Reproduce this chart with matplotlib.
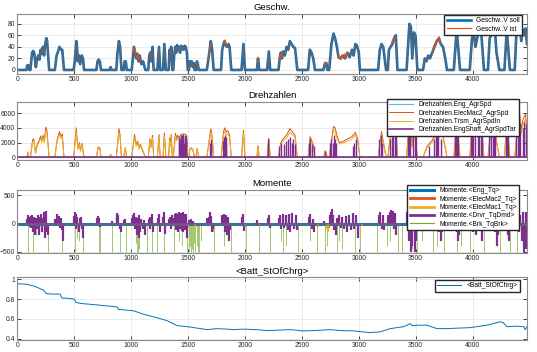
import matplotlib
matplotlib.use("Agg")
import matplotlib.pyplot as plt
import numpy as np

plt.rcParams['font.family'] = ['Liberation Sans', 'DejaVu Sans']

# ---------------- data ----------------
T_END = 4478

# Geschw. (V soll) vertices
speed_t = [0, 80, 88, 97, 105,
           115, 130, 140, 150, 163, 175, 185, 195, 205, 215, 225, 235, 245, 255, 262, 280,
           330, 345, 355, 370, 385, 395, 410,
           495, 505, 518, 524, 532, 542, 552, 567, 577, 587,
           695, 705, 715, 725, 735,
           812, 820, 828,
           870, 880, 893, 903, 915,
           935, 943, 953, 962,
           1005, 1015, 1025, 1035, 1045, 1055, 1065, 1075, 1090, 1105, 1125,
           1150, 1160, 1168, 1175, 1188, 1198,
           1230, 1245, 1255,
           1280, 1292, 1305,
           1330, 1338, 1345, 1352, 1362,
           1370, 1378, 1388, 1396, 1404, 1412, 1420, 1430, 1440, 1450, 1460, 1470, 1480, 1490, 1498,
           1508, 1515, 1523, 1532, 1542, 1550, 1558,
           1570, 1578, 1586, 1594,
           1665, 1680, 1700, 1712, 1725,
           1790, 1800, 1812, 1822, 1832, 1845, 1855, 1865, 1880,
           1970, 1987, 2000,
           2105, 2115, 2125,
           2195, 2210, 2222,
           2295, 2305, 2315, 2325, 2335, 2350, 2365, 2380, 2395, 2410, 2425, 2440, 2460,
           2555, 2570, 2585, 2600, 2615,
           2690, 2700, 2715, 2725,
           2740, 2760, 2778, 2792, 2808, 2822, 2840, 2860, 2880, 2900, 2920, 2940, 2955, 2970, 2985, 3000, 3010,
           3170, 3185, 3200, 3215, 3240,
           3255, 3265, 3280, 3295, 3310, 3325, 3340,
           3420, 3445, 3458, 3470, 3485, 3498, 3515,
           3565, 3580, 3595, 3610, 3625, 3645, 3665, 3685, 3705, 3720, 3740, 3760, 3775,
           3835, 3860, 3890,
           3975, 3995, 4010, 4025, 4040, 4055, 4072, 4100,
           4135, 4150, 4165, 4180, 4195, 4210, 4235,
           4280, 4300, 4328,
           4370, 4385, 4400, 4415, 4428, 4440, 4452, 4465, 4478]
speed_v = [0, 0, 8, 8, 0,
           0, 30, 33, 28, 5, 20, 25, 18, 35, 28, 40, 25, 45, 55, 50, 0,
           0, 25, 30, 40, 35, 35, 0,
           0, 15, 50, 40, 15, 25, 10, 25, 20, 0,
           0, 15, 18, 15, 0,
           0, 5, 0,
           0, 30, 50, 40, 0,
           0, 15, 15, 0,
           0, 20, 40, 30, 20, 28, 15, 25, 10, 15, 0,
           0, 25, 30, 15, 40, 0,
           0, 40, 0,
           0, 45, 0,
           0, 35, 20, 40, 0,
           0, 25, 40, 30, 43, 35, 40, 30, 42, 40, 35, 42, 40, 30, 0,
           0, 15, 8, 15, 5, 12, 0,
           0, 15, 10, 0,
           0, 20, 50, 35, 0,
           0, 35, 45, 50, 42, 40, 45, 40, 0,
           0, 45, 0,
           0, 20, 0,
           0, 32, 0,
           0, 20, 30, 20, 32, 25, 40, 35, 50, 45, 40, 38, 0,
           0, 35, 30, 20, 0,
           0, 10, 12, 0,
           0, 45, 63, 55, 40, 22, 20, 25, 20, 30, 22, 35, 25, 45, 42, 30, 0,
           0, 35, 45, 40, 0,
           0, 35, 40, 45, 55, 60, 0,
           0, 80, 75, 20, 65, 60, 0,
           0, 20, 15, 25, 20, 30, 40, 50, 55, 45, 40, 20, 0,
           0, 70, 0,
           0, 55, 65, 40, 55, 70, 75, 0,
           0, 55, 60, 70, 72, 30, 0,
           0, 70, 0,
           0, 65, 70, 72, 50, 70, 60, 72, 45]

# V ist deviations (segments separated by None)
ist_t = [1022, 1028, 1034, 1040, 1048, 1056, 1064, 1072, None,
         1676, 1684, 1692, 1698, None,
         1818, 1826, 1834, 1842, None,
         2108, 2113, 2119, None,
         2300, 2308, 2316, 2324, 2332, None,
         2695, 2703, 2711, 2719, None,
         2815, 2825, 2835, 2845, 2855, 2865, 2875, 2885, 2895, 2905, 2915, None,
         3285, 3293, 3301, 3309, 3317, None,
         3650, 3658, 3666, 3674, 3682, 3690, 3698, 3706, 3714]
ist_v = [36, 30, 34, 24, 28, 20, 26, 14, None,
         18, 28, 38, 46, None,
         46, 52, 43, 40, None,
         18, 22, 14, None,
         16, 26, 20, 28, 30, None,
         8, 14, 9, 12, None,
         26, 20, 24, 18, 26, 20, 28, 22, 30, 24, 22, None,
         44, 50, 48, 56, 52, None,
         34, 42, 38, 48, 46, 52, 50, 58, 48]

# Drehzahlen
em2_t = [0, 85, 92, 100,
         115, 135, 145, 160, 175, 190, 205, 215, 228, 238, 250, 260, 280,
         330, 348, 370, 385, 395, 410,
         495, 518, 532, 545, 555, 567, 587,
         695, 710, 725, 735,
         812, 820, 828,
         870, 893, 903, 915,
         935, 948, 962,
         1005, 1030, 1045, 1058, 1070, 1080, 1100, 1125,
         1150, 1165, 1175, 1188, 1198,
         1230, 1245, 1255,
         1280, 1292, 1305,
         1330, 1338, 1345, 1352, 1362,
         1370, 1390, 1400, 1410, 1420, 1440, 1460, 1480, 1490, 1498,
         1508, 1515, 1530, 1545, 1558,
         1570, 1580, 1594,
         1665, 1700, 1712, 1725,
         1790, 1812, 1822, 1835, 1850, 1865, 1880,
         1970, 1987, 2000,
         2105, 2115, 2125,
         2195, 2210, 2222,
         2295, 2315, 2335, 2365, 2395, 2420, 2440, 2460,
         2555, 2572, 2600, 2615,
         2690, 2705, 2725,
         2740, 2778, 2792, 2808, 2830, 2870, 2900, 2940, 2970, 2990, 3010,
         3170, 3200, 3240,
         3255, 3280, 3310, 3325, 3340,
         3420, 3445, 3470, 3485, 3515,
         3565, 3600, 3645, 3685, 3705, 3740, 3775,
         3835, 3860, 3890,
         3975, 3995, 4010, 4025, 4055, 4072, 4100,
         4135, 4165, 4195, 4210, 4235,
         4280, 4300, 4328,
         4370, 4400, 4415, 4428, 4440, 4465, 4478]
em2_v = [0, 0, 700, 0,
         0, 2400, 2500, 600, 1800, 2200, 2900, 2300, 3000, 2200, 4100, 3700, 0,
         0, 2200, 3500, 2800, 3200, 0,
         0, 4000, 1200, 2000, 900, 1900, 0,
         0, 1400, 1300, 0,
         0, 400, 0,
         0, 3900, 3000, 0,
         0, 1300, 0,
         0, 3100, 1700, 2200, 1200, 1800, 1000, 0,
         0, 2500, 1400, 3000, 0,
         0, 3100, 0,
         0, 3300, 0,
         0, 2600, 1600, 3100, 0,
         0, 3300, 2500, 3000, 2700, 3100, 3200, 3100, 2400, 0,
         0, 1100, 1300, 900, 0,
         0, 1200, 0,
         0, 3900, 2800, 0,
         0, 3500, 4000, 3400, 3600, 3000, 0,
         0, 3700, 0,
         0, 1600, 0,
         0, 2600, 0,
         0, 2000, 2500, 3000, 3900, 3400, 3000, 0,
         0, 2800, 1800, 0,
         0, 900, 0,
         0, 4200, 4000, 3000, 2000, 2200, 2500, 2800, 3400, 2500, 0,
         0, 3500, 0,
         0, 3300, 4000, 4500, 0,
         0, 5500, 1500, 4500, 0,
         0, 1500, 2300, 3600, 4000, 3000, 0,
         0, 5000, 0,
         0, 4000, 4500, 3000, 5000, 5300, 0,
         0, 4400, 5200, 2200, 0,
         0, 5000, 0,
         0, 5000, 5800, 3600, 5000, 5900, 3400]
trsm_v = [0, 0, 600, 0,
          0, 2100, 2300, 500, 1600, 2000, 2600, 2000, 2700, 2000, 3600, 3300, 0,
          0, 2000, 3100, 2500, 2900, 0,
          0, 3500, 1100, 1800, 800, 1700, 0,
          0, 1300, 1200, 0,
          0, 300, 0,
          0, 3400, 2700, 0,
          0, 1200, 0,
          0, 2700, 1500, 2000, 1100, 1600, 900, 0,
          0, 2200, 1300, 2700, 0,
          0, 2800, 0,
          0, 2900, 0,
          0, 2300, 1400, 2700, 0,
          0, 2900, 2200, 2700, 2400, 2800, 2900, 2800, 2100, 0,
          0, 1000, 1200, 800, 0,
          0, 1100, 0,
          0, 3400, 2500, 0,
          0, 3100, 3500, 3000, 3200, 2700, 0,
          0, 3300, 0,
          0, 1500, 0,
          0, 2300, 0,
          0, 1800, 2200, 2600, 3400, 3000, 2700, 0,
          0, 2500, 1600, 0,
          0, 800, 0,
          0, 3700, 3500, 2600, 1800, 2000, 2200, 2500, 3000, 2200, 0,
          0, 3100, 0,
          0, 2900, 3500, 4000, 0,
          0, 4800, 1300, 4000, 0,
          0, 1300, 2000, 3200, 3500, 2700, 0,
          0, 4400, 0,
          0, 3500, 4000, 2700, 4400, 4700, 0,
          0, 3900, 4600, 2000, 0,
          0, 4400, 0,
          0, 4400, 5100, 3200, 4400, 5200, 3000]
eng_spd_t = [0, T_END]
eng_spd_v = [0, 0]
engshaft_t = [1420, 1425, 1430, 1435, 1440, 1445, 1450, 1455, 1460, 1465, 1470, 1475, 1480, 1485,
              1695, 1700, 1705,
              1810, 1815, 1820, 1825, 1830, 1835,
              2200, 2205,
              2300, 2320, 2340, 2365, 2380, 2395, 2410, 2425, 2440,
              2560, 2575, 2590, 2605,
              2700,
              2745, 2760, 2770, 2780, 2790, 2800, 2950, 2960, 2975,
              3180, 3195, 3205, 3270, 3290, 3300, 3315, 3325,
              3430, 3440, 3450, 3480, 3490, 3500,
              3620, 3660, 3680, 3690, 3700, 3720,
              3845, 3855, 3865, 3875,
              3985, 3995, 4005, 4020, 4045, 4060, 4075, 4085,
              4145, 4160, 4175, 4190, 4200,
              4290, 4300, 4310,
              4380, 4395, 4405, 4420, 4440, 4455, 4470]
engshaft_v = [2200, 2800, 2500, 3000, 2200, 2800, 3000, 2500, 3100, 2000, 2900, 2600, 3000, 2200,
              2000, 2500, 1800,
              2200, 2800, 2500, 3000, 2000, 2700,
              2500, 2000,
              1500, 2000, 1800, 2200, 2500, 2800, 2000, 2500, 1800,
              2000, 2500, 1800, 1500,
              800,
              2000, 2500, 2000, 3000, 2500, 2000, 1500, 2000, 2500,
              2500, 3000, 2000, 2500, 3000, 2800, 3500, 3000,
              4000, 4500, 3500, 4000, 3500, 3800,
              1500, 2500, 3000, 3500, 3000, 2500,
              3500, 4200, 3800, 3000,
              3000, 3800, 4200, 3000, 4000, 4500, 4000, 3000,
              3500, 4000, 4200, 4500, 3500,
              4200, 4500, 3800,
              4000, 4500, 4200, 4700, 4000, 4800, 4500]

# Momente
eng_tq_t = [0, T_END]
eng_tq_v = [0, 0]
drvr_t = [88, 95, 100, 108, 112, 118, 122, 127, 132, 138, 143, 148, 153, 158, 163, 170, 178, 190, 200, 210,
          218, 225, 235, 245, 252, 258, 265, 272,
          335, 345, 355, 365, 372, 380, 390, 398,
          498, 505, 512, 520, 528, 540, 548, 558, 565, 575,
          700, 710, 720, 730, 830,
          872, 880, 888, 898, 908, 940, 950,
          1010, 1018, 1025, 1032, 1040, 1048, 1056, 1065, 1072, 1080, 1090, 1100, 1110, 1118,
          1155, 1162, 1170, 1180, 1190, 1235, 1242, 1250, 1283, 1290, 1298,
          1332, 1340, 1348, 1356,
          1375, 1382, 1390, 1398, 1405, 1412, 1420, 1428, 1436, 1444, 1452, 1460, 1468, 1476, 1484, 1492,
          1512, 1525, 1540,
          1668, 1680, 1690, 1700, 1710, 1718,
          1795, 1805, 1815, 1825, 1835, 1845, 1852, 1860, 1870,
          1975, 1985, 1995, 2110, 2118, 2200, 2210, 2218,
          2300, 2310, 2320, 2330, 2345, 2360, 2375, 2390, 2400, 2415, 2430, 2445, 2455,
          2560, 2572, 2585, 2600, 2610, 2695,
          2745, 2755, 2765, 2775, 2785, 2800, 2812, 2825, 2840, 2855, 2870, 2885, 2900, 2915, 2930, 2945,
          2960, 2975, 2990,
          3175, 3188, 3200, 3210, 3225,
          3260, 3270, 3280, 3290, 3300, 3310, 3320, 3330,
          3425, 3435, 3445, 3455, 3465, 3478, 3490, 3500,
          3570, 3585, 3600, 3615, 3630, 3645, 3660, 3675, 3690, 3705, 3720, 3735,
          3840, 3850, 3860, 3870, 3880,
          3980, 3990, 4000, 4015, 4030, 4045, 4060, 4075, 4085,
          4140, 4155, 4170, 4185, 4200, 4212, 4225,
          4285, 4295, 4310, 4320,
          4375, 4385, 4395, 4410, 4420, 4432, 4445, 4455, 4465, 4472]
drvr_v = [80, 150, 120, -60, 100, 130, -80, 90, 150, -150, 100, 120, -200, 80, 100, -100, 150, -200, 120, 170,
          -150, 100, 200, -250, 220, -150, -100, -200,
          80, 160, 100, 140, -80, 100, -120, -300,
          130, 200, 160, -100, 120, -150, 100, 120, -100, -250,
          90, 130, 100, -60, 50,
          120, 180, 150, -100, -150, 60, 80,
          100, 150, 180, -100, 120, -200, 100, -250, 150, -150, 80, -100, 60, -200,
          80, 120, -100, 160, -150, 100, 170, -150, 120, 200, -180,
          80, 120, -100, 150,
          100, 160, 180, -120, 160, -150, 200, -100, 180, -130, 200, -150, 170, -120, 160, -250,
          60, 80, 50,
          100, 120, 200, 130, -150, -100,
          150, 120, 170, -150, 150, -200, 120, -300, -120,
          120, 170, -130, 60, -40, 100, 150, -80,
          100, 150, -100, 160, -80, 150, -120, 160, -150, 180, -100, 150, -120,
          120, 160, -100, 80, -150, 50,
          150, 200, 250, 150, -120, -200, 100, 150, -80, 120, -100, 130, -150, 150, -120, 180,
          -100, 150, -250,
          150, 200, -100, 150, -120,
          150, 200, 230, 160, 220, -100, 180, -200,
          200, 180, -300, -500, -400, 150, -500, -300,
          100, -100, 120, 150, -80, 120, 170, -120, 200, -150, -300, -150,
          180, 220, -150, -300, -200,
          200, 220, -150, 180, -200, 200, -120, 220, -300,
          180, 200, 150, 220, -150, -400, -200,
          200, 220, -200, -300,
          180, 220, 200, -150, 150, -300, 200, -500, -450, 200]
brk_t = [97, 141, 160, 268, 391, 509, 522, 540, 576, 714, 724, 832, 905, 958, 1045, 1052, 1060, 1070,
         1141, 1185, 1229, 1288, 1376, 1420, 1450, 1490, 1510, 1518, 1525, 1535, 1545, 1555, 1565,
         1575, 1585, 1598, 1611, 1729, 1817, 1876, 2008, 2126, 2221, 2318, 2338, 2360, 2470, 2573,
         2631, 2704, 2720, 2807, 2830, 2855, 2968, 3010, 3160, 3245, 3277, 3345, 3380, 3467, 3511,
         3555, 3650, 3690, 3745, 3862, 3895, 3979, 4096, 4214, 4240, 4330, 4390, 4430]
brk_v = [-500, -500, -200, -500, -500, -500, -250, -300, -500, -500, -500, -500, -500, -500, -350, -500, -500, -450,
         -500, -500, -500, -500, -500, -300, -400, -500, -500, -400, -500, -450, -500, -350, -500,
         -400, -500, -500, -300, -500, -400, -500, -500, -500, -500, -300, -500, -400, -500, -300,
         -500, -500, -400, -500, -300, -450, -500, -500, -500, -400, -300, -500, -500, -450, -500,
         -300, -500, -400, -500, -500, -400, -500, -500, -400, -500, -500, -500, -300]
em1_t = [520, 1050, 1500, 1560, 1710, 1720, 1850, 2000, 2120, 2640, 2720, 2730, 2800, 3030]
em1_v = [-40, -60, -80, -100, -100, -150, -80, -60, -50, -60, -100, -150, -80, -50]
em2tq_t = [1715, 2725, 2735]
em2tq_v = [-80, -100, -80]

# <Batt_StOfChrg>
soc_t = [0, 80, 150, 230, 255, 300, 376, 391, 420, 500, 515, 560, 700, 876, 890, 1023, 1111, 1229,
         1317, 1405, 1494, 1611, 1670, 1750, 1846, 1900, 1993, 2100, 2199, 2300, 2400, 2510, 2600,
         2745, 2850, 2950, 3097, 3185, 3277, 3394, 3453, 3470, 3511, 3600, 3687, 3775, 3862, 3979,
         4126, 4243, 4270, 4302, 4390, 4450, 4462, 4478]
soc_v = [0.955, 0.95, 0.93, 0.89, 0.855, 0.85, 0.85, 0.81, 0.81, 0.80, 0.765, 0.755, 0.74, 0.72, 0.695,
         0.68, 0.645, 0.61, 0.58, 0.53, 0.52, 0.50, 0.49, 0.50, 0.495, 0.49, 0.495, 0.49, 0.48, 0.485,
         0.49, 0.477, 0.48, 0.49, 0.48, 0.478, 0.46, 0.467, 0.50, 0.52, 0.55, 0.53, 0.535, 0.535, 0.50,
         0.50, 0.505, 0.51, 0.535, 0.57, 0.56, 0.52, 0.525, 0.52, 0.49, 0.52]

# ---------------- style ----------------
C_BLUE = '#0072BD'
C_ORANGE = '#D95319'
C_YELLOW = '#EDB120'
C_PURPLE = '#7E2F8E'
C_GREEN = '#77AC30'
C_LBLUE = '#4DBEEE'

W, H = 537, 352
fig = plt.figure(figsize=(W / 100, H / 100), dpi=100)

def mk_ax(top, bottom, left=17.3, right=527):
    return fig.add_axes([left / W, 1 - bottom / H, (right - left) / W, (bottom - top) / H])

def style(ax, title, title_y):
    ax.set_xlim(0, T_END)
    ax.set_xticks([0, 500, 1000, 1500, 2000, 2500, 3000, 3500, 4000])
    ax.tick_params(direction='in', length=2.8, width=0.6, labelsize=4.9, pad=1.5,
                   top=True, right=True, colors='#262626')
    for s in ax.spines.values():
        s.set_color('#8a8a8a')
        s.set_linewidth(0.8)
    ax.grid(True, color='#e3e3e3', linewidth=0.5)
    ax.set_axisbelow(True)
    fig.text(0.5 * (17.3 + 527) / W, 1 - title_y / H, title, ha='center', va='center', fontsize=6.8)

def leg(ax, x_right, y_top, **kw):
    return ax.legend(loc='upper right', bbox_to_anchor=(x_right / W, 1 - y_top / H),
                     bbox_transform=fig.transFigure, fontsize=4.8, handlelength=3.6,
                     borderpad=0.35, labelspacing=0.2, handletextpad=0.8,
                     fancybox=False, framealpha=1, edgecolor='#262626', borderaxespad=0, **kw)

# Panel 1: Geschw.
ax1 = mk_ax(14, 74)
ax1.plot(speed_t, speed_v, color=C_BLUE, lw=1.9, label='Geschw..V soll')
ax1.plot(speed_t, speed_v, color=C_ORANGE, lw=0.9, alpha=0.5, label='Geschw..V ist')
ax1.plot(ist_t, ist_v, color=C_ORANGE, lw=0.9, alpha=0.9)
ax1.set_ylim(-7, 97)
ax1.set_yticks([0, 20, 40, 60, 80])
style(ax1, 'Geschw.', 7)
l1 = leg(ax1, 522, 15)
l1.get_lines()[1].set_alpha(1)
l1.get_lines()[1].set_linewidth(0.8)

# Panel 2: Drehzahlen
ax2 = mk_ax(102.3, 160)
ax2.plot(eng_spd_t, eng_spd_v, color=C_LBLUE, lw=0.8, label='Drehzahlen.Eng_AgrSpd')
ax2.plot(em2_t, em2_v, color=C_ORANGE, lw=0.7, label='Drehzahlen.ElecMac2_AgrSpd')
ax2.plot(em2_t, trsm_v, color=C_YELLOW, lw=0.7, label='Drehzahlen.Trsm_AgrSpdIn')
ax2.vlines(engshaft_t, 0, engshaft_v, color=C_PURPLE, lw=1.0)
ax2.plot([0, T_END], [0, 0], color=C_PURPLE, lw=1.2, label='Drehzahlen.EngShaft_AgrSpdTar')
ax2.set_ylim(-370, 7480)
ax2.set_yticks([0, 2000, 4000, 6000])
style(ax2, 'Drehzahlen', 95)
leg(ax2, 519, 99)

# Panel 3: Momente
ax3 = mk_ax(190, 252.5)
ax3.vlines(brk_t, 0, brk_v, color=C_GREEN, lw=0.6, alpha=0.8)
ax3.plot(eng_tq_t, eng_tq_v, color=C_BLUE, lw=2.2, label='Momente.<Eng_Tq>')
ax3.vlines(em2tq_t, 0, em2tq_v, color=C_ORANGE, lw=1.5)
ax3.plot([0, 1], [np.nan, np.nan], color=C_ORANGE, lw=2.0, label='Momente.<ElecMac2_Tq>')
ax3.vlines(em1_t, 0, em1_v, color=C_YELLOW, lw=1.5)
ax3.plot([0, 1], [np.nan, np.nan], color=C_YELLOW, lw=2.0, label='Momente.<ElecMac1_Tq>')
ax3.vlines(drvr_t, 0, drvr_v, color=C_PURPLE, lw=1.6)
ax3.plot([0, T_END], [0, 0], color='#6a6f78', lw=1.8, alpha=0.7)
ax3.plot([0, 1], [np.nan, np.nan], color=C_PURPLE, lw=2.0, label='Momente.<Drvr_TqDmd>')
ax3.plot([0, 1], [np.nan, np.nan], color=C_GREEN, lw=0.8, label='Momente.<Brk_TqBrk>')
ax3.set_ylim(-510, 590)
ax3.set_yticks([-500, 0, 500])
style(ax3, 'Momente', 184)
leg(ax3, 519, 185)

# Panel 4: SOC
ax4 = mk_ax(277.3, 339.5)
ax4.plot(soc_t, soc_v, color=C_BLUE, lw=0.7, label='<Batt_StOfChrg>')
ax4.set_ylim(0.39, 1.02)
ax4.set_yticks([0.4, 0.6, 0.8, 1.0])
ax4.set_yticklabels(['0.4', '0.6', '0.8', '1'])
style(ax4, '<Batt_StOfChrg>', 272)
leg(ax4, 520, 280)

fig.savefig('out.png', dpi=100)
